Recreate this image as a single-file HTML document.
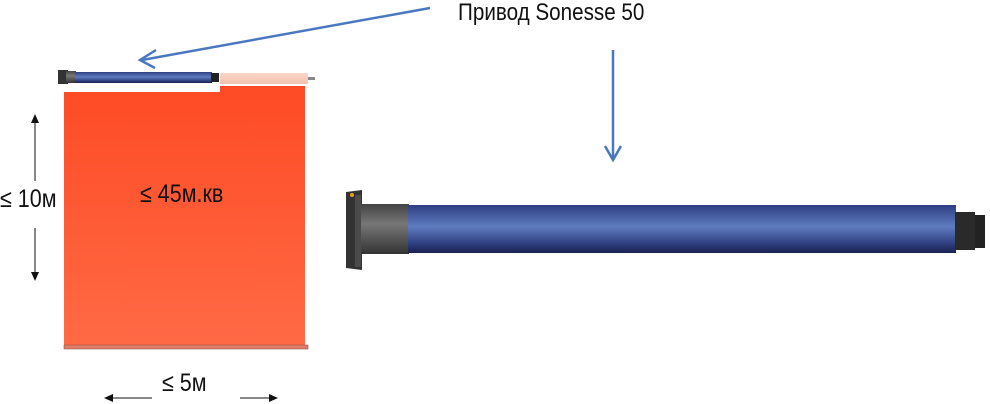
<!DOCTYPE html>
<html><head><meta charset="utf-8"><style>
body{margin:0;background:#fff;width:990px;height:404px;overflow:hidden;position:relative;font-family:"Liberation Sans",sans-serif}
.t{position:absolute;color:#111;transform:scaleX(0.86);transform-origin:left top;white-space:nowrap}
</style></head><body>
<svg width="990" height="404" style="position:absolute;left:0;top:0">
<defs>
<linearGradient id="red" x1="0" y1="0" x2="0" y2="1"><stop offset="0" stop-color="#fe4b25"/><stop offset="1" stop-color="#ff6a45"/></linearGradient>
<linearGradient id="blue" x1="0" y1="0" x2="0" y2="1"><stop offset="0" stop-color="#2e3f82"/><stop offset="0.45" stop-color="#5e7cbf"/><stop offset="0.8" stop-color="#2f3f80"/><stop offset="1" stop-color="#1a2152"/></linearGradient>
<linearGradient id="gray" x1="0" y1="0" x2="0" y2="1"><stop offset="0" stop-color="#444"/><stop offset="0.4" stop-color="#777"/><stop offset="1" stop-color="#333"/></linearGradient>
<linearGradient id="pink" x1="0" y1="0" x2="0" y2="1"><stop offset="0" stop-color="#fbd6c8"/><stop offset="1" stop-color="#f3c1ae"/></linearGradient>
</defs>
<rect x="64" y="86" width="241" height="262" fill="url(#red)"/>
<rect x="64" y="84" width="156" height="8" fill="#fff"/>
<rect x="64" y="345" width="244" height="4" fill="#e07b68" stroke="#9a5546" stroke-width="0.6"/>
<rect x="220" y="73" width="88" height="11" fill="url(#pink)"/>
<rect x="308" y="77" width="7" height="3" fill="#888"/>
<rect x="58" y="70" width="10" height="14" fill="#333"/>
<rect x="66" y="71" width="10" height="12" fill="url(#gray)"/>
<rect x="75" y="72" width="137" height="11" fill="url(#blue)"/>
<rect x="211" y="73" width="8" height="9" fill="#222"/>
<path d="M346 192 L362 190 L362 270 L346 268 Z" fill="#333"/>
<rect x="355" y="195" width="6" height="72" fill="#4b4b4b"/>
<rect x="361" y="204" width="48" height="50" fill="url(#gray)"/>
<rect x="408" y="205" width="548" height="48" fill="url(#blue)"/>
<rect x="955" y="212" width="20" height="38" fill="#2a2a2a"/>
<rect x="975" y="215" width="10" height="33" fill="#222"/>
<circle cx="352" cy="195" r="2" fill="#e6a21e"/>
<g stroke="#4a78c0" stroke-width="2.5" fill="none">
<line x1="430" y1="8" x2="142" y2="60"/>
<polyline points="156,50 140,60 155,68"/>
<line x1="613" y1="50" x2="613" y2="158"/>
<polyline points="605,146 613,160 621,146"/>
</g>
<g stroke="#111" stroke-width="1">
<line x1="35" y1="120" x2="35" y2="181"/>
<line x1="35" y1="228" x2="35" y2="275"/>
<line x1="108" y1="398" x2="152" y2="398"/>
<line x1="240" y1="398" x2="272" y2="398"/>
</g>
<g fill="#111">
<polygon points="35,114 31,123 39,123"/>
<polygon points="35,281 31,272 39,272"/>
<polygon points="104,398 113,394 113,402"/>
<polygon points="278,398 269,394 269,402"/>
</g>
</svg>
<div class="t" style="left:458px;top:-1px;font-size:24px">Привод Sonesse 50</div>
<div class="t" style="left:0px;top:185px;font-size:25px">≤ 10м</div>
<div class="t" style="left:140px;top:180px;font-size:25px">≤ 45м.кв</div>
<div class="t" style="left:162px;top:369px;font-size:25px">≤ 5м</div>
</body></html>
